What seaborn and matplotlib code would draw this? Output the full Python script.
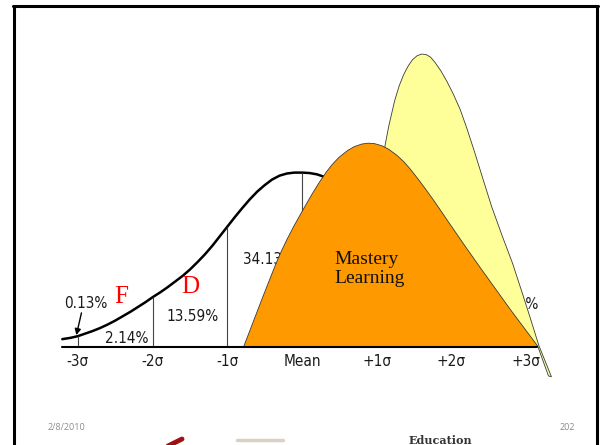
import seaborn as sns
import matplotlib.pyplot as plt
from matplotlib.lines import Line2D

# x in standard deviations, y in density units (peak of the bell ~0.40)
# bell curve (right half is hidden behind the shapes)
bell_x = [-3.21, -3.10, -3.00, -2.90, -2.80, -2.70, -2.60, -2.50, -2.40, -2.30,
          -2.20, -2.10, -2.00, -1.90, -1.80, -1.70, -1.60, -1.50, -1.40, -1.30,
          -1.20, -1.10, -1.00, -0.90, -0.80, -0.70, -0.60, -0.50, -0.40, -0.30,
          -0.20, -0.10, 0.00, 0.10, 0.20, 0.30, 0.40, 0.50, 0.60, 0.70, 0.80, 0.90, 1.00]
bell_y = [0.017, 0.020, 0.024, 0.030, 0.036, 0.043, 0.051, 0.060, 0.070, 0.080,
          0.091, 0.102, 0.114, 0.125, 0.137, 0.150, 0.163, 0.178, 0.195, 0.213,
          0.233, 0.255, 0.277, 0.299, 0.320, 0.340, 0.358, 0.373, 0.386, 0.395,
          0.400, 0.402, 0.402, 0.401, 0.398, 0.392, 0.384, 0.374, 0.361, 0.346, 0.329, 0.310, 0.290]

# dividing lines under the bell
divider_x = [-3, -2, -1, 0]
divider_top = [0.024, 0.114, 0.277, 0.402]

# outline of the orange "Mastery Learning" shape
mastery_x = [-0.78, -0.66, -0.54, -0.41, -0.34, -0.28, -0.20, -0.10, 0.03, 0.13,
             0.23, 0.32, 0.40, 0.50, 0.61, 0.70, 0.80, 0.885, 0.97, 1.07,
             1.16, 1.27, 1.37, 1.45, 1.55, 1.65, 1.75, 1.85, 2.00, 2.20,
             2.40, 2.60, 2.80, 3.00, 3.16]
mastery_y = [0.000, 0.054, 0.108, 0.165, 0.195, 0.219, 0.248, 0.281, 0.321, 0.351,
             0.379, 0.402, 0.420, 0.438, 0.453, 0.462, 0.468, 0.470, 0.469, 0.464,
             0.456, 0.442, 0.426, 0.410, 0.388, 0.365, 0.341, 0.316, 0.278, 0.228,
             0.179, 0.131, 0.083, 0.037, 0.000]

# outline of the tall yellow shape behind it (lower part runs inside the orange one)
peak_x = [1.10, 1.16, 1.24, 1.30, 1.36, 1.42, 1.48, 1.54, 1.60, 1.66,
          1.72, 1.78, 1.86, 1.94, 2.03, 2.12, 2.21, 2.31, 2.42, 2.54,
          2.68, 2.82, 2.96, 3.06, 3.17, 3.34, 3.30, 3.16, 1.94, 1.16]
peak_y = [0.454, 0.508, 0.568, 0.602, 0.628, 0.648, 0.663, 0.672, 0.676, 0.675,
          0.669, 0.657, 0.637, 0.613, 0.582, 0.547, 0.503, 0.450, 0.389, 0.323,
          0.256, 0.192, 0.118, 0.064, 0.003, -0.070, -0.068, -0.001, 0.108, 0.339]

tick_pos = [-3, -2, -1, 0, 1, 2, 3]
tick_labels = ['-3σ', '-2σ', '-1σ', 'Mean', '+1σ', '+2σ', '+3σ']

pct_labels = ['0.13%', '2.14%', '13.59%', '34.13%', '0.13%']

sns.set_theme(style='white')
plt.rcParams['font.family'] = ['DejaVu Sans']
plt.rcParams['font.stretch'] = 'condensed'

fig = plt.figure(figsize=(6.02, 4.45), dpi=100)
ax = fig.add_axes([0, 0, 1, 1])
ax.set_xlim(-4.044, 4.017)
ax.set_ylim(-0.2277, 0.801)
ax.axis('off')

# bell curve and the sigma dividers
sns.lineplot(x=bell_x, y=bell_y, sort=False, color='black', lw=1.8, ax=ax, zorder=2)
ax.vlines(divider_x, 0, divider_top, color='#444444', lw=0.8, zorder=2)
ax.plot([-3.21, 3.15], [-0.002, -0.002], color='black', lw=1.5, zorder=5)

# percentages under the curve
small = dict(fontsize=11, color='#1a1a1a', fontstretch='condensed', zorder=2)
ax.text(-2.90, 0.100, pct_labels[0], ha='center', va='center', **small)
ax.text(-2.35, 0.019, pct_labels[1], ha='center', va='center', **small)
ax.text(-1.47, 0.069, pct_labels[2], ha='center', va='center', **small)
ax.text(-0.79, 0.202, pct_labels[3], ha='left', va='center', **small)
ax.text(3.17, 0.096, pct_labels[4], ha='right', va='center', **small)
ax.annotate('', xy=(-3.03, 0.020), xytext=(-2.945, 0.084),
            arrowprops=dict(arrowstyle='-|>', color='black', lw=1, mutation_scale=9))

# grade letters
serif = ['Liberation Serif', 'DejaVu Serif']
ax.text(-2.42, 0.114, 'F', color='#ff0000', fontsize=18, family=serif,
        fontstretch='normal', ha='center', va='center')
ax.text(-1.49, 0.138, 'D', color='#ff0000', fontsize=18, family=serif,
        fontstretch='normal', ha='center', va='center')

# overlaid shapes
ax.fill(peak_x, peak_y, facecolor='#ffff99', edgecolor='#3a3a3a', lw=0.6, zorder=3)
ax.fill(mastery_x, mastery_y, facecolor='#ff9900', edgecolor='#3a3a3a', lw=0.6, zorder=4)
ax.text(0.44, 0.179, 'Mastery\nLearning', fontsize=14, family=serif, color='#111111',
        fontstretch='normal', ha='left', va='center', linespacing=1.1, zorder=6)

# axis labels
for p, lab in zip(tick_pos, tick_labels):
    ax.text(p, -0.034, lab, fontsize=11, color='#1a1a1a', fontstretch='condensed',
            ha='center', va='center')

# slide frame, footer and the cut-off logo
W, H = 602, 445
for xs, ys in [([14, 14], [6, 445]), ([13, 598], [6, 6]), ([597, 597], [6, 445])]:
    fig.add_artist(Line2D([x / W for x in xs], [1 - y / H for y in ys],
                          color='black', lw=2.2, transform=fig.transFigure))
foot = dict(fontsize=6.5, color='#8c8c8c', family=['Open Sans', 'DejaVu Sans'],
            fontstretch='normal', ha='center', va='center')
fig.text(66 / W, 1 - 428 / H, '2/8/2010', **foot)
fig.text(567 / W, 1 - 428 / H, '202', **foot)
fig.add_artist(Line2D([168 / W, 182 / W], [1 - 446 / H, 1 - 439 / H],
                      color='#a01010', lw=3.5, transform=fig.transFigure))
fig.add_artist(Line2D([237 / W, 283 / W], [1 - 440 / H, 1 - 440 / H],
                      color='#d8d2c0', lw=2.5, transform=fig.transFigure))
fig.text(440 / W, 1 - 440 / H, 'Education', fontsize=8, weight='bold', color='#333333',
         family=['DejaVu Serif'], fontstretch='normal', ha='center', va='center')

fig.savefig('out.png', dpi=100)
